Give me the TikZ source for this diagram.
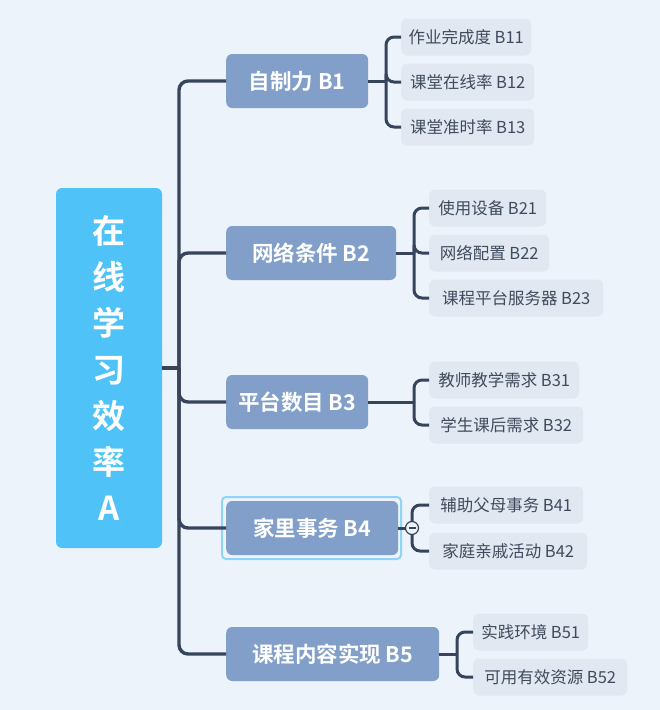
\documentclass[tikz,border=0pt]{standalone}
\usepackage{fontspec}
\newfontfamily\cjk{Noto Sans CJK SC}[BoldFont={Noto Sans CJK SC Bold}]
\definecolor{bgc}{HTML}{ECF3FA}
\definecolor{rootc}{HTML}{4FC3F7}
\definecolor{bc}{HTML}{819FC9}
\definecolor{leafc}{HTML}{E1E8F1}
\definecolor{linec}{HTML}{36455C}
\definecolor{leaftext}{HTML}{3F4A5C}
\definecolor{selc}{HTML}{90D5F7}
\tikzset{
  rootbox/.style={fill=rootc, rounded corners=6pt, text=white, font=\cjk\bfseries\fontsize{33}{46.3}\selectfont, align=center, minimum width=106pt, minimum height=360pt, inner sep=0pt},
  bbox/.style={fill=bc, rounded corners=6pt, text=white, font=\cjk\bfseries\fontsize{21.5}{24}\selectfont, minimum height=54pt, inner sep=0pt, anchor=west},
  leafbox/.style={fill=leafc, rounded corners=6pt, text=leaftext, font=\cjk\fontsize{16.5}{19}\selectfont, minimum height=37pt, inner sep=0pt, anchor=west},
  mainline/.style={draw=linec, line width=3.4pt, rounded corners=9pt},
  leafline/.style={draw=linec, line width=3pt, rounded corners=8pt},
}
\begin{document}
\begin{tikzpicture}[x=1pt,y=-1pt]
\useasboundingbox (0,0) rectangle (660,710);
\fill[bgc] (0,0) rectangle (660,710);

% root
\node[rootbox] (root) at (109,368) {在\\线\\学\\习\\效\\率\\A};

% B nodes
\node[bbox, minimum width=142pt] (b1) at (226,81) {自制力 B1};
\node[bbox, minimum width=170pt] (b2) at (226,253) {网络条件 B2};
\node[bbox, minimum width=142pt] (b3) at (226,402) {平台数目 B3};
\node[bbox, minimum width=172pt] (b4) at (226,528) {家里事务 B4};
\node[bbox, minimum width=213pt] (b5) at (226,654) {课程内容实现 B5};

% selection outline on B4
\node[draw=selc, line width=2pt, rounded corners=4pt, minimum width=179pt, minimum height=62pt, inner sep=0pt] (sel) at (311.5,528) {};

% leaves
\node[leafbox, minimum width=130pt] (b11) at (401,37) {作业完成度 B11};
\node[leafbox, minimum width=133pt] (b12) at (401,82) {课堂在线率 B12};
\node[leafbox, minimum width=133pt] (b13) at (401,127) {课堂准时率 B13};
\node[leafbox, minimum width=117pt] (b21) at (429,208) {使用设备 B21};
\node[leafbox, minimum width=120pt] (b22) at (429,253) {网络配置 B22};
\node[leafbox, minimum width=174pt] (b23) at (429,298) {课程平台服务器 B23};
\node[leafbox, minimum width=150pt] (b31) at (429,380) {教师教学需求 B31};
\node[leafbox, minimum width=154pt] (b32) at (429,425) {学生课后需求 B32};
\node[leafbox, minimum width=154pt] (b41) at (429,505) {辅助父母事务 B41};
\node[leafbox, minimum width=158pt] (b42) at (429,551) {家庭亲戚活动 B42};
\node[leafbox, minimum width=115pt] (b51) at (473,632) {实践环境 B51};
\node[leafbox, minimum width=154pt] (b52) at (473,677) {可用有效资源 B52};

% trunk
\coordinate (t) at (179,368);
\draw[mainline] (root.east) -- (t);
\foreach \b in {b1,b2,b3,b4,b5} \draw[mainline] (t) |- (\b.west);

% leaf junctions
\coordinate (j1) at (386,81);
\coordinate (j2) at (414,253);
\coordinate (j3) at (414,402);
\coordinate (j4) at (412,528);
\coordinate (j5) at (457,654);

\draw[leafline] (b1.east) -- (j1);
\foreach \l in {b11,b12,b13} \draw[leafline] (j1) |- (\l.west);
\draw[leafline] (b2.east) -- (j2);
\foreach \l in {b21,b22,b23} \draw[leafline] (j2) |- (\l.west);
\draw[leafline] (b3.east) -- (j3);
\foreach \l in {b31,b32} \draw[leafline] (j3) |- (\l.west);
\draw[leafline] (b4.east) -- (j4);
\foreach \l in {b41,b42} \draw[leafline] (j4) |- (\l.west);
\draw[leafline] (b5.east) -- (j5);
\foreach \l in {b51,b52} \draw[leafline] (j5) |- (\l.west);

% collapse marker
\node[circle, draw=linec, fill=bgc, line width=1.2pt, minimum size=13pt, inner sep=0pt] (m4) at (j4) {};
\draw[linec, line width=1.2pt] ([xshift=-3.5pt]m4.center) -- ([xshift=3.5pt]m4.center);
\end{tikzpicture}
\end{document}
